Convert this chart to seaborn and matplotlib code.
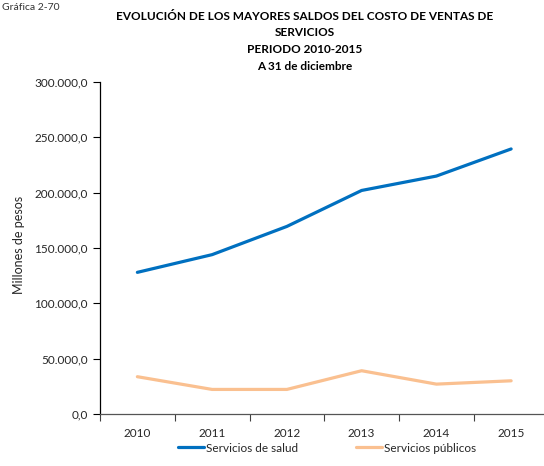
import matplotlib
matplotlib.use("Agg")
import matplotlib.pyplot as plt
from matplotlib.ticker import FuncFormatter, FixedLocator
import seaborn as sns
import pandas as pd
import numpy as np

years = ["2010", "2011", "2012", "2013", "2014", "2015"]
salud = [128000, 144000, 169500, 202000, 215000, 239500]
publicos = [33700, 22200, 22200, 39100, 27000, 30000]
series_names = ["Servicios de salud", "Servicios públicos"]
colors = ["#0070C0", "#FAC090"]

df = pd.DataFrame({
    "idx": list(range(len(years))) * 2,
    "valor": salud + publicos,
    "serie": [series_names[0]] * len(years) + [series_names[1]] * len(years),
})

sns.set_theme(style="white")
plt.rcParams["font.family"] = ["Lato", "DejaVu Sans"]

W, H = 544, 466
fig = plt.figure(figsize=(W / 100, H / 100), dpi=100)
ax = fig.add_axes([100 / W, (H - 414) / H, 448.5 / W, (414 - 82) / H])

sns.lineplot(data=df, x="idx", y="valor", hue="serie", palette=colors,
             linewidth=2.3, ax=ax, legend=True)

ax.set_xlim(-0.5, len(years) - 0.5)
ax.set_ylim(0, 300000)

def fmt(v, pos):
    s = f"{v:,.1f}"
    return s.replace(",", "X").replace(".", ",").replace("X", ".")

ax.yaxis.set_major_locator(FixedLocator(np.arange(0, 300001, 50000)))
ax.yaxis.set_major_formatter(FuncFormatter(fmt))
ax.tick_params(axis="y", which="major", direction="out", length=5, width=0.8,
               color="black", labelsize=8.5, pad=4, left=True)

ax.set_xticks(range(len(years)))
ax.set_xticklabels(years)
ax.set_xticks(np.arange(-0.5, len(years), 1.0), minor=True)
ax.tick_params(axis="x", which="major", length=0, labelsize=8.5, pad=10)
ax.tick_params(axis="x", which="minor", direction="out", length=5, width=0.8,
               color="#404040", bottom=True)

for s in ["top", "right"]:
    ax.spines[s].set_visible(False)
ax.spines["left"].set_color("black")
ax.spines["left"].set_linewidth(0.9)
ax.spines["bottom"].set_color("#555555")
ax.spines["bottom"].set_linewidth(0.9)

ax.set_xlabel("")
ax.set_ylabel("Millones de pesos", fontsize=9)
ax.yaxis.set_label_coords(-75 / 448.5, 0.51)

handles, labels = ax.get_legend_handles_labels()
ax.legend(handles, labels, loc="center", bbox_to_anchor=(327 / W, (H - 448) / H),
          bbox_transform=fig.transFigure, ncol=2, frameon=False, fontsize=8.5,
          handlelength=2.2, handletextpad=0.2, columnspacing=4.9)

fig.text(2 / W, 1 - 7 / H, "Gráfica 2-70", fontsize=7.5, ha="left", va="center",
         color="#333333")
title_lines = ["EVOLUCIÓN DE LOS MAYORES SALDOS DEL COSTO DE VENTAS DE",
               "SERVICIOS", "PERIODO 2010-2015", "A 31 de diciembre"]
for i, line in enumerate(title_lines):
    fig.text(305 / W, 1 - (16.5 + i * 16.5) / H, line, fontsize=8.5, fontweight="bold",
             ha="center", va="center", color="black")

fig.savefig("out.png", dpi=100)
